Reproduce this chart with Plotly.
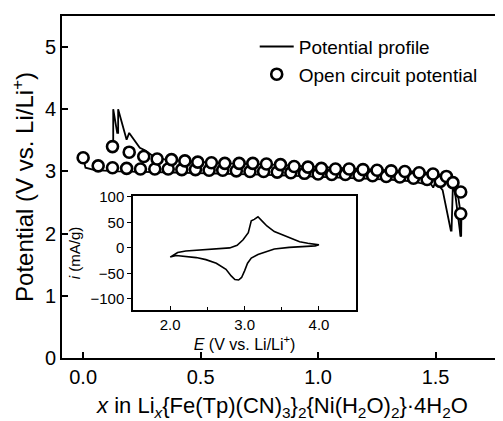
import plotly.graph_objects as go

# ---- main panel data ----
ocp_upper_x = [0.00, 0.125, 0.196, 0.258, 0.315, 0.376, 0.433, 0.488, 0.546, 0.603,
               0.664, 0.722, 0.780, 0.840, 0.898, 0.957, 1.014, 1.074, 1.132, 1.191,
               1.251, 1.311, 1.369, 1.430, 1.489, 1.546, 1.574, 1.607, 1.607]
ocp_upper_y = [3.22, 3.40, 3.31, 3.24, 3.20, 3.19, 3.17, 3.15, 3.14, 3.13,
               3.13, 3.13, 3.12, 3.11, 3.08, 3.07, 3.05, 3.04, 3.04, 3.03,
               3.02, 3.01, 3.00, 2.98, 2.96, 2.92, 2.82, 2.67, 2.32]

ocp_lower_x = [0.064, 0.125, 0.185, 0.244, 0.305, 0.362, 0.420, 0.478, 0.536, 0.594,
               0.652, 0.710, 0.768, 0.826, 0.884, 0.942, 1.000, 1.058, 1.116, 1.174,
               1.232, 1.290, 1.348, 1.406, 1.464, 1.520]
ocp_lower_y = [3.09, 3.06, 3.05, 3.04, 3.04, 3.04, 3.03, 3.03, 3.02, 3.02,
               3.01, 3.00, 3.00, 2.99, 2.98, 2.97, 2.96, 2.95, 2.95, 2.94,
               2.93, 2.92, 2.91, 2.89, 2.87, 2.84]

# discharge branch of the potential profile
dis_x = [0.000, 0.010, 0.050, 0.150, 0.300, 0.450, 0.600, 0.750, 0.900, 1.050,
         1.200, 1.300, 1.400, 1.450, 1.470, 1.490, 1.500, 1.530, 1.565, 1.568,
         1.574, 1.585, 1.606, 1.609, 1.610]
dis_y = [3.22, 3.06, 3.02, 3.00, 2.99, 2.98, 2.97, 2.95, 2.93, 2.91,
         2.89, 2.87, 2.84, 2.80, 2.86, 2.74, 2.84, 2.70, 2.05, 2.05,
         2.82, 2.60, 1.97, 1.97, 2.32]

# charge branch of the potential profile
chg_x = [1.607, 1.604, 1.595, 1.575, 1.550, 1.500, 1.400, 1.300, 1.200, 1.000,
         0.800, 0.600, 0.450, 0.350, 0.300, 0.263, 0.241, 0.215, 0.196, 0.185,
         0.149, 0.149, 0.145, 0.128, 0.128]
chg_y = [1.95, 2.40, 2.62, 2.80, 2.90, 2.97, 3.00, 3.02, 3.04, 3.07,
         3.11, 3.13, 3.16, 3.19, 3.24, 3.34, 3.38, 3.51, 3.62, 3.51,
         4.00, 3.62, 3.62, 4.00, 3.40]

# ---- inset: cyclic voltammogram ----
cv_e = [2.00, 2.10, 2.21, 2.40, 2.60, 2.80, 2.90, 2.98, 3.05, 3.09, 3.13, 3.18,
        3.24, 3.30, 3.40, 3.52, 3.62, 3.74, 3.85, 3.95, 4.00,
        3.95, 3.80, 3.60, 3.40, 3.29, 3.18, 3.09, 3.04, 3.00, 2.96, 2.92,
        2.87, 2.82, 2.75, 2.62, 2.48, 2.35, 2.20, 2.08, 2.00]
cv_i = [-18, -9, -6, -4, -3, 0, 5, 16, 30, 53, 56, 61,
        52, 43, 32, 25, 18, 12, 9, 7, 6,
        4, 3, 1, -2, -7, -13, -20, -30, -45, -58, -63,
        -62, -55, -42, -30, -23, -19, -16, -15, -18]

font_family = "Liberation Sans, Arial, sans-serif"

fig = go.Figure()

fig.add_trace(go.Scatter(
    x=dis_x + [None] + chg_x, y=dis_y + [None] + chg_y,
    mode="lines", line=dict(color="black", width=1.8),
    name="Potential profile", legendgroup="a", connectgaps=False))

fig.add_trace(go.Scatter(
    x=ocp_lower_x, y=ocp_lower_y, mode="markers",
    marker=dict(symbol="circle", size=11, color="white",
                line=dict(color="black", width=2.6)),
    name="Open circuit potential", legendgroup="b", showlegend=False))

fig.add_trace(go.Scatter(
    x=ocp_upper_x, y=ocp_upper_y, mode="markers",
    marker=dict(symbol="circle", size=11, color="white",
                line=dict(color="black", width=2.6)),
    name="Open circuit potential", legendgroup="b"))

fig.add_trace(go.Scatter(
    x=cv_e, y=cv_i, mode="lines", line=dict(color="black", width=1.6),
    xaxis="x2", yaxis="y2", showlegend=False))

fig.update_layout(
    width=495, height=413,
    margin=dict(l=54, r=0, t=8, b=63),
    paper_bgcolor="white", plot_bgcolor="white",
    font=dict(family=font_family, color="black", size=18),
    showlegend=True,
    legend=dict(x=0.437, y=0.966, xanchor="left", yanchor="top",
                bgcolor="rgba(0,0,0,0)", font=dict(size=19),
                tracegroupgap=0, traceorder="grouped", itemwidth=34),
    xaxis=dict(range=[-0.09, 1.787], tickvals=[0, 0.5, 1.0, 1.5],
               ticktext=["0.0", "0.5", "1.0", "1.5"],
               ticks="inside", ticklen=6, tickwidth=2, tickcolor="black",
               showline=True, linecolor="black", linewidth=2, mirror=True,
               showgrid=False, zeroline=False,
               tickfont=dict(size=20),
               title=dict(text="<i>x</i> in Li<sub><i>x</i></sub>{Fe(Tp)(CN)<sub>3</sub>}<sub>2</sub>{Ni(H<sub>2</sub>O)<sub>2</sub>}·4H<sub>2</sub>O",
                          font=dict(size=22), standoff=12)),
    yaxis=dict(range=[0, 5.5], tickvals=[0, 1, 2, 3, 4, 5],
               ticks="inside", ticklen=6, tickwidth=2, tickcolor="black",
               showline=True, linecolor="black", linewidth=2,
               showgrid=False, zeroline=False,
               tickfont=dict(size=20),
               title=dict(text="Potential (V vs. Li/Li<sup>+</sup>)",
                          font=dict(size=24), standoff=8)),
    xaxis2=dict(domain=[0.161, 0.667], anchor="y2", range=[1.5, 4.5],
                tickvals=[2.0, 3.0, 4.0], ticktext=["2.0", "3.0", "4.0"],
                ticks="inside", ticklen=4, tickwidth=1.3, tickcolor="black",
                minor=dict(tickvals=[2.5, 3.5], ticks="inside", ticklen=3,
                           tickcolor="black"),
                showline=True, linecolor="black", linewidth=1.5, mirror=True,
                showgrid=False, zeroline=False,
                tickfont=dict(size=15),
                title=dict(text="<i>E</i> (V vs. Li/Li<sup>+</sup>)",
                           font=dict(size=16), standoff=2)),
    yaxis2=dict(domain=[0.140, 0.474], anchor="x2", range=[-122, 102],
                tickvals=[-100, -50, 0, 50, 100],
                ticks="outside", ticklen=4, tickwidth=1.3, tickcolor="black",
                showline=True, linecolor="black", linewidth=1.5, mirror=True,
                showgrid=False, zeroline=False,
                tickfont=dict(size=15),
                title=dict(text="<i>i</i> (mA/g)", font=dict(size=15), standoff=6)),
)

fig.write_html("out.html")
